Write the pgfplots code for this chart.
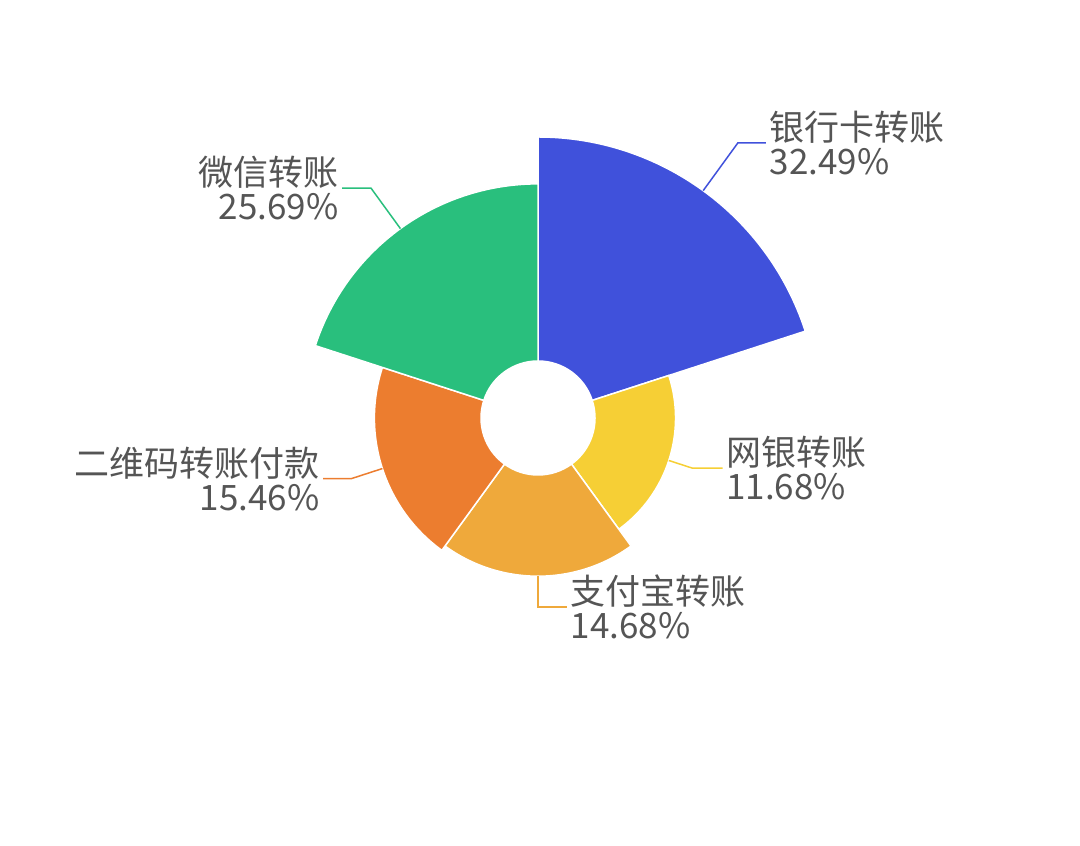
\documentclass[border=0pt]{standalone}
\usepackage{pgfplots}
\pgfplotsset{compat=1.18}
\usepackage{pgfplotstable}
\usepackage{fontspec}
\newfontfamily\cjk{Noto Sans CJK SC}

\definecolor{cBank}{HTML}{4051DB}
\definecolor{cNet}{HTML}{F6CF35}
\definecolor{cAli}{HTML}{EFA93B}
\definecolor{cQR}{HTML}{EC7D2F}
\definecolor{cWx}{HTML}{29BF7D}
\definecolor{txt}{HTML}{555555}

% share of each transfer channel (%)
\pgfplotstableread{
name value
bank 32.49
net  11.68
ali  14.68
qr   15.46
wx   25.69
}\datatable

% rose chart: equal angles, radius from inner 57px to outer 281px (0.5pt per px)
\pgfplotstablegetelem{0}{value}\of\datatable
\let\vmax\pgfplotsretval
\newcommand\getr[2]{%
  \pgfplotstablegetelem{#1}{value}\of\datatable
  \pgfmathparse{(57+224*\pgfplotsretval/\vmax)*0.5}%
  \expandafter\xdef\csname r#2\endcsname{\pgfmathresult}}
\getr{0}{Bank}\getr{1}{Net}\getr{2}{Ali}\getr{3}{QR}\getr{4}{Wx}

\newcommand\sector[4]{%
  \fill[#1, draw=white, line width=0.75pt]
    ([shift={(#2:#4 pt)}]axis cs:538,427) arc[start angle=#2, end angle=#3, radius=#4 pt]
    -- ([shift={(#3:28.5pt)}]axis cs:538,427) arc[start angle=#3, end angle=#2, radius=28.5pt]
    -- cycle;}

\tikzset{lbl/.style={text=txt, inner sep=0pt, font=\cjk\fontsize{17.5}{17}\selectfont}}

\begin{document}
\begin{tikzpicture}
\begin{axis}[
    at={(0,0)}, anchor=south west,
    x=0.5pt, y=0.5pt,
    xmin=0, xmax=1080, ymin=0, ymax=845,
    enlargelimits=false, hide axis, clip=false,
]
\sector{cBank}{90}{18}{\rBank}
\sector{cNet}{18}{-54}{\rNet}
\sector{cAli}{-54}{-126}{\rAli}
\sector{cQR}{-126}{-198}{\rQR}
\sector{cWx}{162}{90}{\rWx}

\draw[cBank, line width=0.75pt] ([shift={(54:\rBank pt)}]axis cs:538,427)
  -- ++(54:29.5pt) -- ++(14pt,0)
  node[lbl, anchor=west, align=left, xshift=1.5pt] {银行卡转账\\32.49\%};
\draw[cNet, line width=0.75pt] ([shift={(-18:\rNet pt)}]axis cs:538,427)
  -- ++(-18:12.5pt) -- ++(15pt,0)
  node[lbl, anchor=west, align=left, xshift=1.5pt] {网银转账\\11.68\%};
\draw[cAli, line width=0.75pt] ([shift={(-90:\rAli pt)}]axis cs:538,427)
  -- ++(-90:15.5pt) -- ++(14.5pt,0)
  node[lbl, anchor=west, align=left, xshift=1.5pt] {支付宝转账\\14.68\%};
\draw[cQR, line width=0.75pt] ([shift={(-162:\rQR pt)}]axis cs:538,427)
  -- ++(-162:16.5pt) -- ++(-14pt,0)
  node[lbl, anchor=east, align=right, xshift=-1.5pt] {二维码转账付款\\15.46\%};
\draw[cWx, line width=0.75pt] ([shift={(126:\rWx pt)}]axis cs:538,427)
  -- ++(126:25pt) -- ++(-14.5pt,0)
  node[lbl, anchor=east, align=right, xshift=-1.5pt] {微信转账\\25.69\%};
\end{axis}
\pgfresetboundingbox
\path (0,0) rectangle (540pt,422.5pt);
\end{tikzpicture}
\end{document}
